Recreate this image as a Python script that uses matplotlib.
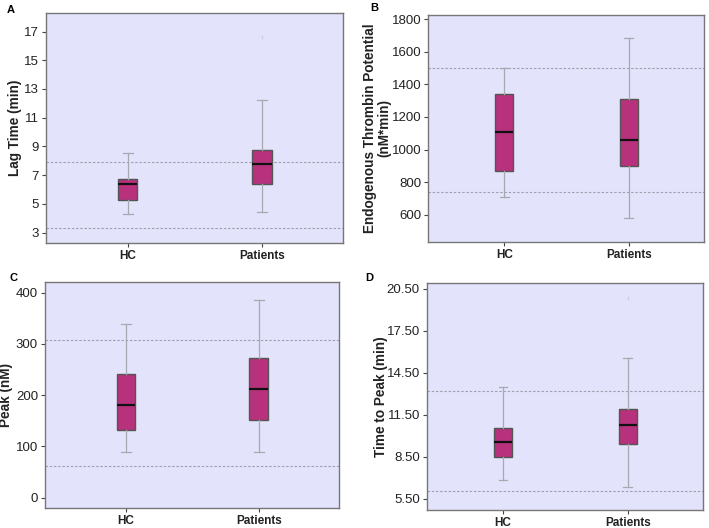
import matplotlib
matplotlib.use('Agg')
import matplotlib.pyplot as plt

plt.rcParams['font.family'] = ['Liberation Sans', 'DejaVu Sans']

groups = ['HC', 'Patients']

# box stats per panel: [whislo, q1, median, q3, whishi] for HC and Patients
lag_hc = [4.28, 5.28, 6.41, 6.74, 8.57]
lag_pat = [4.44, 6.41, 7.77, 8.74, 12.25]
lag_out = [[], [16.59]]
lag_ref = [7.88, 3.31]

etp_hc = [706, 869, 1105, 1338, 1497]
etp_pat = [583, 900, 1058, 1307, 1685]
etp_out = [[], []]
etp_ref = [1501, 737]

peak_hc = [88.5, 132.7, 180.8, 240.7, 339.5]
peak_pat = [88.5, 151.5, 211.4, 271.9, 385]
peak_out = [[], []]
peak_ref = [307, 61]

ttp_hc = [6.86, 8.5, 9.55, 10.56, 13.51]
ttp_pat = [6.33, 9.39, 10.75, 11.89, 15.59]
ttp_out = [[], [19.83]]
ttp_ref = [13.18, 6.05]

panels = [
    ('A', 'Lag Time (min)', lag_hc, lag_pat, lag_out, lag_ref,
     [3, 5, 7, 9, 11, 13, 15, 17], (2.28, 18.3), '{:g}',
     [0.065, 0.540, 0.419, 0.4356]),
    ('B', 'Endogenous Thrombin Potential\n(nM*min)', etp_hc, etp_pat, etp_out, etp_ref,
     [600, 800, 1000, 1200, 1400, 1600, 1800], (434, 1824), '{:g}',
     [0.604, 0.542, 0.389, 0.4294]),
    ('C', 'Peak (nM)', peak_hc, peak_pat, peak_out, peak_ref,
     [0, 100, 200, 300, 400], (-20.7, 421.5), '{:g}',
     [0.0635, 0.0373, 0.415, 0.4292]),
    ('D', 'Time to Peak (min)', ttp_hc, ttp_pat, ttp_out, ttp_ref,
     [5.5, 8.5, 11.5, 14.5, 17.5, 20.5], (4.69, 20.9), '{:.2f}',
     [0.602, 0.0341, 0.390, 0.4293]),
]

fig = plt.figure(figsize=(7.09, 5.28), dpi=100)

letter_pos = {'A': (0.010, 0.990), 'B': (0.522, 0.994), 'C': (0.014, 0.483), 'D': (0.515, 0.483)}
label_x = {'A': -0.081, 'B': -0.132, 'C': -0.109, 'D': -0.14}

for letter, ylab, hc, pat, outs, ref, ticks, ylim, fmt, rect in panels:
    ax = fig.add_axes(rect)
    ax.set_facecolor('#e3e3fb')
    stats = []
    for name, s, o in zip(groups, [hc, pat], outs):
        stats.append({'label': name, 'whislo': s[0], 'q1': s[1], 'med': s[2],
                      'q3': s[3], 'whishi': s[4], 'fliers': o})
    ax.bxp(stats, positions=[1, 2], widths=0.142, patch_artist=True,
           boxprops=dict(facecolor='#b8317d', edgecolor='#555555', linewidth=1.0),
           medianprops=dict(color='#111111', linewidth=1.6),
           whiskerprops=dict(color='#a8a8b0', linewidth=0.9),
           capprops=dict(color='#a8a8b0', linewidth=0.9),
           capwidths=0.07,
           flierprops=dict(marker='|', markersize=3, markeredgecolor='#d0d0e8',
                           linestyle='none'))
    for r in ref:
        ax.axhline(r, color='#a0a0b0', linestyle=(0, (2.2, 1.6)), linewidth=0.8, zorder=1)
    ax.set_xlim(0.39, 2.605)
    ax.set_ylim(*ylim)
    ax.set_yticks(ticks)
    ax.set_yticklabels([fmt.format(t) for t in ticks], fontsize=9.5, color='#222222')
    ax.set_xticks([1, 2])
    ax.set_xticklabels(groups, fontsize=8.5, fontweight='bold', color='#222222')
    ax.tick_params(axis='both', length=3, width=0.8, color='#444444', pad=2)
    for sp in ax.spines.values():
        sp.set_color('#777777')
        sp.set_linewidth(1.0)
    ax.set_ylabel(ylab, fontsize=9.8, fontweight='bold', color='#222222', linespacing=1.05)
    ax.yaxis.set_label_coords(label_x[letter], 0.5)
    fig.text(*letter_pos[letter], letter, fontsize=8, fontweight='bold', va='top', ha='left')

fig.savefig('out.png', dpi=100)
